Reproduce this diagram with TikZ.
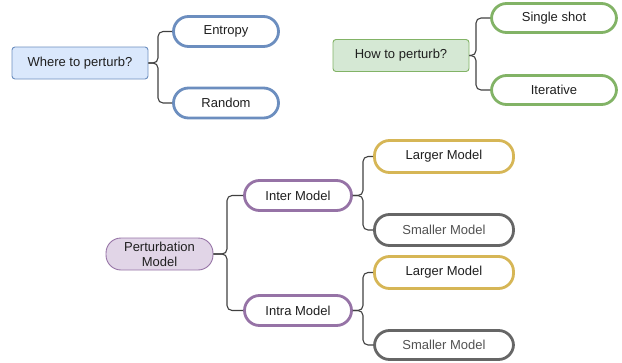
\documentclass[tikz,border=0pt]{standalone}
\usepackage{fontspec}
\setmainfont{Liberation Sans}
\begin{document}
\begin{tikzpicture}[x=1pt,y=-1pt,
  font=\fontsize{13}{14}\selectfont,
  root/.style={draw, line width=0.9pt, rounded corners=3pt, inner sep=0pt, text=black!88},
  pill/.style={draw, fill=white, line width=2.8pt, rounded corners=15pt, inner sep=0pt, text=black!88},
  brace/.style={draw=black!75, line width=1.1pt, rounded corners=5pt},
]
\definecolor{blueS}{HTML}{6C8EBF}\definecolor{blueF}{HTML}{DAE8FC}
\definecolor{greenS}{HTML}{82B366}\definecolor{greenF}{HTML}{D5E8D4}
\definecolor{purpS}{HTML}{9673A6}\definecolor{purpF}{HTML}{E1D5E7}
\definecolor{yelS}{HTML}{D6B656}
\definecolor{grayS}{HTML}{666666}
\useasboundingbox (0,0) rectangle (622,362);

% where to perturb
\node[root, draw=blueS, fill=blueF, minimum width=136pt, minimum height=32pt] (where) at (80,63) {Where to perturb?};
\node[pill, draw=blueS, minimum width=105pt, minimum height=30pt] (entropy) at (226,31.5) {Entropy};
\node[pill, draw=blueS, minimum width=105pt, minimum height=30pt] (random) at (226,103) {Random};

% how to perturb
\node[root, draw=greenS, fill=greenF, minimum width=136pt, minimum height=32pt] (how) at (401,55.5) {How to perturb?};
\node[pill, draw=greenS, minimum width=125pt, minimum height=29pt] (single) at (554,18) {Single shot};
\node[pill, draw=greenS, minimum width=125pt, minimum height=29pt] (iter) at (554,90) {Iterative};

% perturbation model
\node[root, draw=purpS, fill=purpF, rounded corners=15pt, minimum width=107pt, minimum height=32pt, align=center, font=\fontsize{13}{15}\selectfont] (pm) at (159.5,254) {Perturbation\\Model};
\node[pill, draw=purpS, minimum width=107pt, minimum height=30pt] (inter) at (298,195.5) {Inter Model};
\node[pill, draw=purpS, minimum width=107pt, minimum height=30pt] (intra) at (298,310.5) {Intra Model};
\node[pill, draw=yelS, minimum width=139pt, minimum height=32pt] (large1) at (444,156.5) {Larger Model};
\node[pill, draw=grayS, text=black!68, minimum width=139pt, minimum height=31pt] (small1) at (444,230) {Smaller Model};
\node[pill, draw=yelS, minimum width=139pt, minimum height=32pt] (large2) at (444,272.5) {Larger Model};
\node[pill, draw=grayS, text=black!68, minimum width=139pt, minimum height=29pt] (small2) at (444,345) {Smaller Model};

% bracket connectors
\draw[brace] (where.east) -- (158,63) |- (entropy.west);
\draw[brace] (where.east) -- (158,63) |- (random.west);
\draw[brace] (how.east) -- (476,55.5) |- (single.west);
\draw[brace] (how.east) -- (476,55.5) |- (iter.west);
\draw[brace] (pm.east) -- (227,254) |- (inter.west);
\draw[brace] (pm.east) -- (227,254) |- (intra.west);
\draw[brace] (inter.east) -- (363,195.5) |- (large1.west);
\draw[brace] (inter.east) -- (363,195.5) |- (small1.west);
\draw[brace] (intra.east) -- (363,310.5) |- (large2.west);
\draw[brace] (intra.east) -- (363,310.5) |- (small2.west);
\end{tikzpicture}
\end{document}
